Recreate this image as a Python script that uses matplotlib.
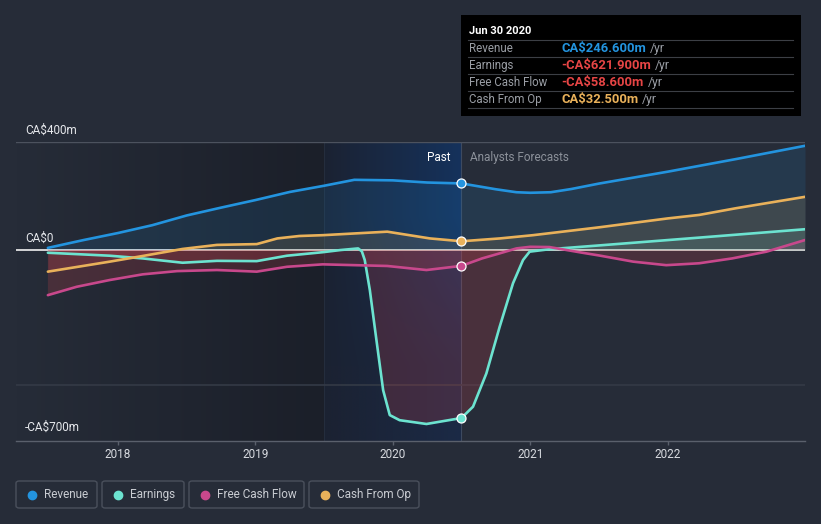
import numpy as np
import matplotlib
matplotlib.use("Agg")
from matplotlib import pyplot as plt
from matplotlib.patches import Rectangle, FancyBboxPatch
from matplotlib.lines import Line2D
from matplotlib.text import Annotation

plt.rcParams["font.family"] = ["Roboto", "DejaVu Sans"]

# data (decimal years, CA$ millions)
rev_x = [2017.49, 2017.75, 2018.0, 2018.25, 2018.5, 2018.75, 2019.0, 2019.25, 2019.5, 2019.72,
         2020.0, 2020.25, 2020.5, 2020.75, 2020.9, 2021.0, 2021.15, 2021.3, 2021.5, 2022.0,
         2022.5, 2023.0]
rev = [8, 37, 63, 92, 128, 157, 185, 215, 238, 260,
       258, 250, 246.6, 225, 214, 212, 214, 226, 246, 290,
       337, 386]

earn_x = [2017.49, 2017.94, 2018.18, 2018.47, 2018.72, 2019.01, 2019.23, 2019.49, 2019.62, 2019.748,
          2019.775, 2019.796, 2019.833, 2019.881, 2019.93, 2019.978, 2020.05, 2020.245, 2020.5, 2020.584,
          2020.681, 2020.778, 2020.875, 2020.948, 2020.996, 2021.14, 2021.5, 2022.23, 2023.0]
earn = [-10, -21, -31, -47, -40, -41, -21, -8, 0, 6,
        -5, -37, -148, -333, -519, -611, -630, -644, -621.9, -580,
        -457, -284, -123, -37, -6, 3, 17, 46, 77]

fcf_x = [2017.49, 2017.7, 2017.94, 2018.18, 2018.43, 2018.72, 2019.01, 2019.23, 2019.49, 2019.96,
         2020.245, 2020.5, 2020.65, 2020.78, 2020.9, 2021.0, 2021.14, 2021.38, 2021.5, 2021.75,
         2021.99, 2022.23, 2022.47, 2022.72, 2023.0]
fcf = [-167, -136, -111, -90, -78, -74, -80, -62, -53, -59,
       -74, -58.6, -31, -12, 6, 12, 11, -10, -20, -43,
       -56, -49, -31, -6, 37]

cfo_x = [2017.49, 2017.94, 2018.18, 2018.47, 2018.72, 2019.01, 2019.16, 2019.32, 2019.49, 2019.96,
         2020.27, 2020.5, 2020.78, 2021.02, 2021.5, 2022.0, 2022.23, 2022.5, 2023.0]
cfo = [-80, -43, -22, 4, 19, 22, 43, 52, 55, 68,
       43, 32.5, 43, 55, 84, 117, 130, 155, 197]

names = ["Revenue", "Earnings", "Free Cash Flow", "Cash From Op"]
colors = ["#2394df", "#6ce3d0", "#c8488c", "#e9b15a"]
tip_values = ["CA$246.600m", "-CA$621.900m", "-CA$58.600m", "CA$32.500m"]
tip_colors = ["#2394df", "#e64545", "#e64545", "#e9b15a"]

y_ticks = [400, 0, -700]
y_labels = ["CA$400m", "CA$0", "-CA$700m"]
x_ticks = [2018, 2019, 2020, 2021, 2022]
now = 2020.5

BG = "#262c38"
W, H = 821, 524

fig = plt.figure(figsize=(W / 100, H / 100), dpi=100, facecolor=BG)
ax = fig.add_axes([16 / W, 1 - 441 / H, (805 - 16) / W, (441 - 142) / H])
ax.set_facecolor(BG)
xmin, xmax = 2017.258, 2023.0
ymin, ymax = -707, 400

# background shading: darker past, blue-ish last year
n = 200
g1 = np.zeros((1, n, 4))
c0, c1 = np.array([38, 44, 56]) / 255, np.array([27, 31, 41]) / 255
for i in range(n):
    t = i / (n - 1)
    g1[0, i, :3] = c0 * (1 - t) + c1 * t
    g1[0, i, 3] = 1
ax.imshow(g1, extent=[xmin, 2019.5, ymin, ymax], aspect="auto", zorder=0)
g2 = np.zeros((2, n, 4))
b0, b1 = np.array([27, 34, 50]) / 255, np.array([21, 50, 92]) / 255
b1b = np.array([27, 42, 70]) / 255
for i in range(n):
    t = i / (n - 1)
    g2[0, i, :3] = b0 * (1 - t) + b1 * t
    g2[1, i, :3] = b0 * (1 - t) + b1b * t
    g2[:, i, 3] = 1
ax.imshow(g2, extent=[2019.5, now, ymin, ymax], aspect="auto", zorder=0, interpolation="bilinear")
ax.axvline(2019.5, color="#263040", lw=0.6, zorder=1)
ax.axvline(now, color="#3d4a60", lw=0.8, zorder=1)

# grid lines
ax.axhline(400, color="#4c525e", lw=1, zorder=1)
ax.axhline(-500, color="#343a46", lw=1.2, zorder=1)
ax.axhline(0, color="#f2f2f2", lw=1.2, zorder=2)

series = [(rev_x, rev), (earn_x, earn), (fcf_x, fcf), (cfo_x, cfo)]
for (xs, ys), c in zip(series, colors):
    xs = np.array(xs)
    ys = np.array(ys, dtype=float)
    ax.fill_between(xs, ys, 0, where=ys >= 0, interpolate=True, color=c, alpha=0.13, lw=0, zorder=2)
    ax.fill_between(xs, ys, 0, where=ys <= 0, interpolate=True, color="#d9444e", alpha=0.2, lw=0, zorder=2)
for (xs, ys), c in zip(series, colors):
    ax.plot(xs, ys, color=c, lw=1.9, zorder=4, solid_capstyle="round", solid_joinstyle="round")
    yv = ys[list(xs).index(now)]
    ax.plot([now], [yv], "o", ms=6.5, mfc=c, mec="white", mew=0.9, zorder=5)

ax.set_xlim(xmin, xmax)
ax.set_ylim(ymin, ymax)
for s in ["top", "right", "left"]:
    ax.spines[s].set_visible(False)
ax.spines["bottom"].set_color("#5a606c")
ax.spines["bottom"].set_linewidth(1)
ax.set_yticks([])
ax.set_xticks(x_ticks)
ax.set_xticklabels([str(t) for t in x_ticks])
ax.tick_params(axis="x", colors="#5a606c", length=3, width=1, labelcolor="#d8dbe0", labelsize=8.5, pad=2)

for v, lab in zip(y_ticks, y_labels):
    ax.text(0.0115, v + 44, lab, transform=ax.get_yaxis_transform(), color="#e6e8ec",
            fontsize=8.5, va="center", ha="left", clip_on=False, zorder=6)

ax.annotate("Past", xy=(now, 400), xytext=(-8, -11), textcoords="offset points",
            ha="right", va="center", color="white", fontsize=8.5)
ax.annotate("Analysts Forecasts", xy=(now, 400), xytext=(6, -11), textcoords="offset points",
            ha="left", va="center", color="#8c919a", fontsize=8.5)

# tooltip
def fx(px):
    return px / W

def fy(py):
    return 1 - py / H

fig.patches.append(Rectangle((fx(461), fy(116)), fx(801) - fx(461), fy(15) - fy(116),
                             transform=fig.transFigure, facecolor="black", edgecolor="none", zorder=10))
fig.text(fx(469), fy(31), "Jun 30 2020", color="white", fontsize=8, fontweight="bold",
         va="center", ha="left", zorder=11)
for yl in [40, 57.3, 74.3, 91.3, 108.3]:
    fig.lines.append(Line2D([fx(468), fx(793)], [fy(yl), fy(yl)], transform=fig.transFigure,
                            color="#3c3f45", lw=0.8, zorder=11))
for i, (nm, val, vc) in enumerate(zip(names, tip_values, tip_colors)):
    yy = fy(48.5 + i * 16.9)
    fig.text(fx(469), yy, nm, color="#9a9ea5", fontsize=8.3, va="center", ha="left", zorder=11)
    t = fig.text(fx(561), yy, val, color=vc, fontsize=9.4, fontweight="bold", va="center", ha="left", zorder=11)
    fig.add_artist(Annotation("/yr", xy=(1, 0.5), xycoords=t, xytext=(3, 0), textcoords="offset points",
                              color="#9a9ea5", fontsize=8.8, va="center", ha="left",
                              annotation_clip=False, zorder=12))

# legend boxes
boxes = [(16, 97), (102, 184), (189, 304), (309, 419)]
for (x0, x1), nm, c in zip(boxes, names, colors):
    fig.patches.append(FancyBboxPatch((fx(x0), fy(508)), fx(x1) - fx(x0), fy(481) - fy(508),
                                      boxstyle="round,pad=0,rounding_size=0.004",
                                      transform=fig.transFigure, facecolor="none",
                                      edgecolor="#4a505c", lw=1))
    fig.lines.append(Line2D([fx(x0 + 16)], [fy(494.5)], marker="o", ms=6, color=c, mec=c,
                            transform=fig.transFigure))
    fig.text(fx(x0 + 28), fy(494.5), nm, color="#c9ccd2", fontsize=8.5, va="center", ha="left")

fig.savefig("out.png", dpi=100, facecolor=BG)
